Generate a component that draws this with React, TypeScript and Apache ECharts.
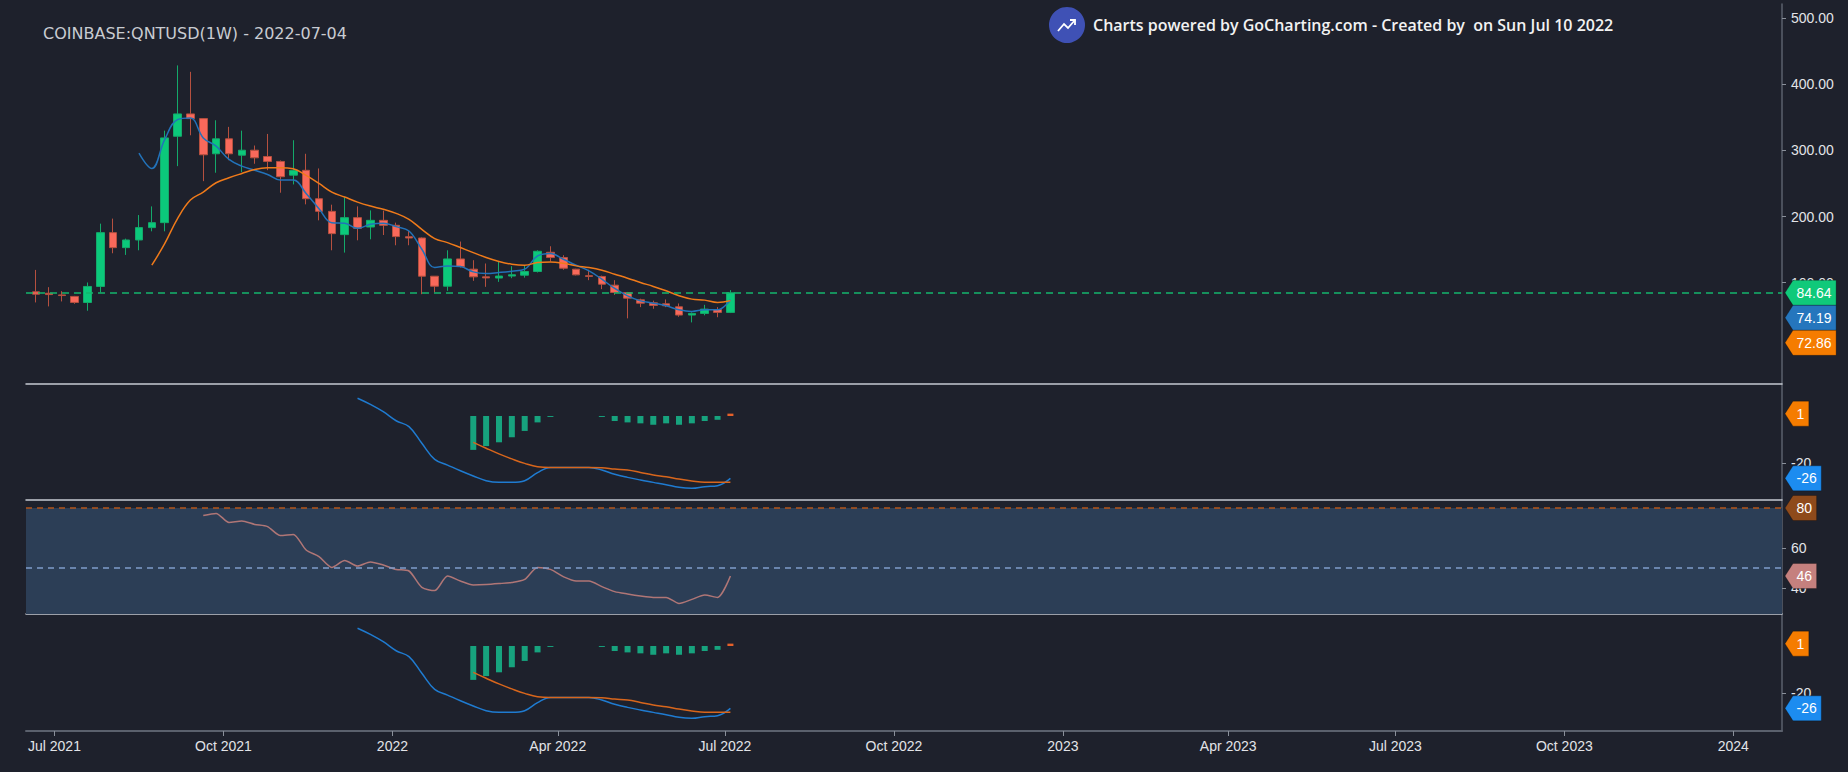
import React, { useEffect, useRef } from 'react';
import * as echarts from 'echarts';

// ---------- data ----------
const AXIS_START = '2021-06-16';
const AXIS_DAYS = 956;
const FIRST_WEEK = '2021-06-21';

const OPEN = [86.1, 84, 81.5, 79.2, 70, 94.3, 175.7, 153, 164.6, 183.3, 190.8, 321.5, 355.3, 348.2, 295, 317.6, 292.9, 300.4, 290.9, 283.4, 262.7, 270, 227, 207.9, 172.7, 198.4, 184.2, 194.3, 186.8, 169.5, 167.6, 109.8, 94.7, 135.9, 120.4, 108.8, 107, 110, 111.3, 116.9, 146, 138, 120.4, 110.6, 109.4, 96.2, 85, 74, 69.5, 68, 63.5, 51, 53.5, 59.4, 55];
const CLOSE = [82.6, 82, 80.5, 70.1, 94.3, 175.7, 153, 164.6, 183.3, 190.8, 319, 355.3, 348.2, 293.5, 317.6, 295, 300.4, 288.9, 283.4, 260.3, 269.8, 227, 207.9, 174.2, 198.4, 182.2, 194.3, 186.8, 169.7, 167.6, 109.8, 94.7, 135.9, 124.4, 108.8, 107.2, 110, 112, 116.9, 147.5, 138, 121.9, 111.8, 109.5, 97.7, 85.2, 76.6, 69, 65.6, 65, 51, 53.5, 60, 55, 84.64];
const LOW = [70.1, 64.1, 71.6, 68, 57.5, 85, 144.5, 142, 149, 177.7, 177.7, 276.3, 323, 253.6, 266.3, 285.3, 267.2, 279.9, 270.2, 236.1, 248.6, 218.5, 194.3, 149, 145.5, 164.1, 165.6, 172.1, 156.6, 156.6, 82.6, 85.2, 87.7, 123, 102.8, 93.7, 101.2, 106.8, 107.6, 115.4, 132, 119.6, 111, 103.8, 90.2, 81.6, 46, 63, 60.5, 63, 48.4, 39.9, 50.6, 47.7, 54];
const HIGH = [119.3, 93.2, 87.2, 80, 100.3, 189.3, 196.9, 166.6, 202.3, 215.4, 330, 428.7, 419, 349, 345.7, 335.7, 330, 307.5, 325, 284.9, 315.5, 295, 272.8, 218, 229.5, 215.4, 209.4, 209, 190.8, 178.2, 168.4, 110, 149, 162.2, 134, 129, 131.4, 124.9, 125.6, 149, 155.1, 141.5, 121, 119.6, 110.6, 103.8, 86, 75.7, 72.8, 74.6, 68.5, 55, 66.5, 63, 88.7];

const MA_FAST_START = 8;
const MA_FAST = [296, 272.8, 316.5, 346.7, 349, 319, 306.5, 286.4, 276.3, 270.2, 263.7, 255.2, 255.2, 235, 212, 190.8, 190, 182.2, 188.3, 190, 184.8, 178.2, 150.6, 122.9, 125.4, 124.4, 116.3, 113.9, 115.4, 117.4, 120.4, 140.4, 144.1, 135.5, 126.4, 117.8, 105.3, 91.2, 80.1, 72.5, 69, 65, 59, 56.5, 59, 59, 74.19];
const MA_SLOW_START = 9;
const MA_SLOW = [126.4, 159, 197, 225, 237, 251.2, 258.7, 265.2, 271.3, 273.8, 273.8, 272.3, 262.2, 250.1, 237, 229.5, 221.9, 215.9, 211, 204.9, 195.8, 180.7, 166.7, 160.6, 153.1, 145.5, 138, 132, 127.9, 126.4, 130.5, 131.4, 129.4, 125.4, 122.9, 118.9, 112.8, 106.8, 100.3, 94.3, 87.7, 80.1, 75.1, 73.6, 70.1, 72.86];

const MACD_START = 25;
const MACD = [7.5, 4.9, 1.8, -2.0, -4.5, -11.5, -18.3, -20.7, -23.1, -25.3, -27.3, -28.0, -28.0, -27.3, -23.9, -21.7, -21.7, -21.7, -21.7, -22.8, -24.6, -25.9, -27.0, -28.0, -29.0, -30.1, -30.5, -29.8, -29.4, -26.3];
const SIGNAL_START = 34;
const SIGNAL = [-11.1, -13.6, -16.0, -18.1, -20.0, -21.4, -21.7, -21.7, -21.7, -21.7, -21.8, -22.4, -22.8, -23.8, -24.9, -25.6, -26.6, -27.4, -28.0, -28.0, -28.0];
const HIST_START = 34;
const HIST = [-14.3, -12.7, -11.1, -9.0, -6.3, -2.7, -0.4, 0, 0, 0, -0.4, -2.1, -2.7, -3.1, -3.7, -3.1, -3.7, -3.1, -2.1, -1.6, 1];

const RSI_START = 13;
const RSI = [76.2, 77.3, 72.8, 73.5, 71.8, 70.7, 66.2, 66.8, 59, 55.7, 50.3, 53.7, 51, 53, 51.5, 49.3, 48.5, 40.3, 38.7, 46, 43.5, 41.5, 41.7, 42.2, 42.8, 44.3, 50.3, 49.3, 45.7, 43.5, 43.5, 40.7, 38.2, 37, 36, 35.3, 35.3, 32.3, 34.3, 36.5, 35.3, 46];
const RSI_UPPER = 80;
const RSI_MID = 50;
const RSI_LOWER = 20;

const PRICE_TICKS = [100, 200, 300, 400, 500];
const MACD_TICKS = [-20];
const RSI_TICKS = [40, 60];
const MONTHS = ['Jan', 'Feb', 'Mar', 'Apr', 'May', 'Jun', 'Jul', 'Aug', 'Sep', 'Oct', 'Nov', 'Dec'];
const QUARTER_MONTHS = [1, 4, 7, 10];

const TITLE = 'COINBASE:QNTUSD(1W) - 2022-07-04';
const WATERMARK = 'Charts powered by GoCharting.com - Created by  on Sun Jul 10 2022';

// ---------- styles / layout ----------
const BG = '#1e212c';
const GREEN = '#0bc97b';
const RED = '#f9695b';
const FAST_C = '#2272b9';
const SLOW_C = '#ef7a1a';
const MACD_C = '#1f7bd0';
const SIG_C = '#d8661c';
const HIST_G = '#17a37e';
const HIST_R = '#e4602a';
const RSI_C = '#b07676';
const AXIS_C = '#5b616d';
const SEP_C = '#c6cad2';
const TXT_C = '#e2e4e8';

const PRICE_RANGE = [-53.3, 521.6];
const MACD1_RANGE = [-35.44, 13.5];
const RSI_RANGE = [27, 84];
const MACD2_RANGE = [-35.86, 13.5];

const DAY = 86400000;
const t0 = Date.parse(AXIS_START);
const categories = Array.from({ length: AXIS_DAYS }, (_, i) => new Date(t0 + i * DAY).toISOString().slice(0, 10));
const weekIdx = (i: number) => Math.round((Date.parse(FIRST_WEEK) - t0) / DAY) + 7 * i;
const series2 = (arr: number[], start: number) => arr.map((v, k) => [weekIdx(start + k), v]);

const isQuarterStart = (v: string) => v.slice(8, 10) === '01' && QUARTER_MONTHS.includes(Number(v.slice(5, 7)));
const labelInterval = (_i: number, v: string) => isQuarterStart(v);
const fmtDate = (v: string) => {
  const m = Number(v.slice(5, 7));
  return m === 1 ? v.slice(0, 4) : `${MONTHS[m - 1]} ${v.slice(0, 4)}`;
};

function buildOption(): any {
  const grids = [
    { left: 26, right: 66, top: 4, height: 380 },
    { left: 26, right: 66, top: 384, height: 116 },
    { left: 26, right: 66, top: 500, height: 114 },
    { left: 26, right: 66, top: 614, height: 117 },
  ];
  const xAxis = grids.map((_, g) => ({
    type: 'category',
    gridIndex: g,
    data: categories,
    boundaryGap: true,
    axisLine: { show: true, onZero: false, lineStyle: { color: g === 3 ? AXIS_C : SEP_C, width: g === 3 ? 2 : 1.5 } },
    axisTick: g === 3
      ? { show: true, interval: labelInterval, alignWithLabel: true, length: 5, lineStyle: { color: '#8a909a' } }
      : { show: false },
    axisLabel: g === 3
      ? { show: true, interval: labelInterval, formatter: fmtDate, color: TXT_C, fontSize: 14, fontFamily: 'Liberation Sans', margin: 8 }
      : { show: false },
    splitLine: { show: false },
    axisPointer: { show: false },
  }));
  const yBase = (g: number, range: number[], ticks: number[], fmt: (v: number) => string) => ({
    type: 'value',
    gridIndex: g,
    position: 'right',
    min: range[0],
    max: range[1],
    axisLine: { show: true, lineStyle: { color: AXIS_C, width: 1.5 } },
    axisTick: { show: true, length: 4, customValues: ticks, lineStyle: { color: '#8a909a' } },
    axisLabel: { show: true, customValues: ticks, formatter: fmt, color: TXT_C, fontSize: 14, fontFamily: 'Liberation Sans', margin: 9 },
    splitLine: { show: false },
  });
  const yAxis = [
    yBase(0, PRICE_RANGE, PRICE_TICKS, (v) => Number(v).toFixed(2)),
    yBase(1, MACD1_RANGE, MACD_TICKS, (v) => String(v)),
    yBase(2, RSI_RANGE, RSI_TICKS, (v) => String(v)),
    yBase(3, MACD2_RANGE, MACD_TICKS, (v) => String(v)),
  ];

  const candleData = OPEN.map((o, i) => [weekIdx(i), o, CLOSE[i], LOW[i], HIGH[i]]);
  const lineS = (name: string, data: any[], color: string, ax: number, smooth = 0.4) => ({
    name, type: 'line', xAxisIndex: ax, yAxisIndex: ax, data, smooth,
    symbol: 'none', showSymbol: false, lineStyle: { color, width: 1.5 }, z: 3,
  });
  const macdSet = (ax: number) => [
    {
      name: 'hist' + ax, type: 'bar', xAxisIndex: ax, yAxisIndex: ax, barWidth: 6,
      data: series2(HIST, HIST_START),
      itemStyle: { color: (p: any) => (p.value[1] > 0 ? HIST_R : HIST_G) },
    },
    lineS('macd' + ax, series2(MACD, MACD_START), MACD_C, ax),
    lineS('signal' + ax, series2(SIGNAL, SIGNAL_START), SIG_C, ax),
  ];

  return {
    animation: false,
    backgroundColor: BG,
    grid: grids,
    xAxis,
    yAxis,
    series: [
      {
        name: 'QNTUSD', type: 'candlestick', xAxisIndex: 0, yAxisIndex: 0, barWidth: 8,
        data: candleData, encode: { x: 0, y: [1, 2, 3, 4] },
        itemStyle: { color: GREEN, color0: RED, borderColor: '#14a96a', borderColor0: '#b5503f', borderWidth: 1 },
        markLine: {
          silent: true, symbol: ['none', 'none'], label: { show: false },
          lineStyle: { color: '#15b56c', type: [7, 5], width: 1.5 },
          data: [{ yAxis: CLOSE[CLOSE.length - 1] }],
        },
        z: 2,
      },
      lineS('fast', series2(MA_FAST, MA_FAST_START), FAST_C, 0),
      lineS('slow', series2(MA_SLOW, MA_SLOW_START), SLOW_C, 0),
      ...macdSet(1),
      {
        ...lineS('rsi', series2(RSI, RSI_START), RSI_C, 2, 0.25),
        markArea: {
          silent: true,
          itemStyle: { color: '#2c3e56' },
          data: [[{ yAxis: RSI_UPPER }, { yAxis: Math.max(RSI_LOWER, RSI_RANGE[0]) }]],
        },
        markLine: {
          silent: true, symbol: ['none', 'none'], label: { show: false },
          data: [
            { yAxis: RSI_UPPER, lineStyle: { color: '#b4561b', type: [6, 5], width: 1.5 } },
            { yAxis: RSI_MID, lineStyle: { color: '#7f9dcc', type: [6, 5], width: 1.5 } },
          ],
        },
      },
      ...macdSet(3),
    ],
  };
}

const CHAR_W: Record<string, number> = { '.': 3.9, '-': 4.7 };
const textW = (s: string) => s.split('').reduce((a, c) => a + (CHAR_W[c] ?? 7.8), 0);

function buildGraphics(chart: any): any[] {
  const last = (a: number[]) => a[a.length - 1];
  const tags = [
    { ax: 0, value: last(CLOSE), text: last(CLOSE).toFixed(2), color: '#10c97a' },
    { ax: 0, value: last(MA_FAST), text: last(MA_FAST).toFixed(2), color: '#2576bd' },
    { ax: 0, value: last(MA_SLOW), text: last(MA_SLOW).toFixed(2), color: '#f57c00' },
    { ax: 1, value: last(HIST), text: String(Math.round(last(HIST))), color: '#f57c00' },
    { ax: 1, value: last(MACD), text: String(Math.round(last(MACD))), color: '#1c8cf0' },
    { ax: 2, value: RSI_UPPER, text: String(RSI_UPPER), color: '#8e4a1b' },
    { ax: 2, value: last(RSI), text: String(Math.round(last(RSI))), color: '#c5807e' },
    { ax: 3, value: last(HIST), text: String(Math.round(last(HIST))), color: '#f57c00' },
    { ax: 3, value: last(MACD), text: String(Math.round(last(MACD))), color: '#1c8cf0' },
  ];
  const H = 25;
  const placed: any[] = [];
  [0, 1, 2, 3].forEach((ax) => {
    const group = tags.filter((t) => t.ax === ax)
      .map((t) => ({ ...t, py: chart.convertToPixel({ yAxisIndex: ax }, t.value) as number }))
      .sort((a, b) => a.py - b.py);
    let prev = -Infinity;
    group.forEach((t) => {
      const yc = Math.max(t.py, prev + H);
      prev = yc;
      placed.push({ ...t, yc });
    });
  });
  const tip = 1785;
  const x0 = 1792;
  const els: any[] = [];
  placed.forEach((t) => {
    const w = textW(t.text) + 9;
    const h2 = H / 2;
    els.push({
      type: 'polygon', z: 100,
      shape: { points: [[tip, t.yc], [x0 + 1, t.yc - h2], [x0 + w, t.yc - h2], [x0 + w, t.yc + h2], [x0 + 1, t.yc + h2]] },
      style: { fill: t.color, stroke: 'rgba(0,0,0,0.25)', lineWidth: 1 },
    });
    els.push({
      type: 'text', z: 101, x: x0 + w / 2, y: t.yc,
      style: { text: t.text, fill: '#ffffff', font: '14px "Liberation Sans"', align: 'center', verticalAlign: 'middle' },
    });
  });
  // title and watermark
  els.push({
    type: 'text', z: 50, x: 43, y: 33,
    style: { text: TITLE, fill: '#c9ccd2', font: '16px "DejaVu Sans"', verticalAlign: 'middle' },
  });
  const cx = 1067, cy = 25;
  els.push({ type: 'circle', z: 50, shape: { cx, cy, r: 18 }, style: { fill: '#3f51b5' } });
  els.push({
    type: 'polyline', z: 51,
    shape: { points: [[cx - 9, cy + 6], [cx - 3, cy - 1], [cx + 1, cy + 3], [cx + 8, cy - 5]] },
    style: { stroke: '#ffffff', lineWidth: 1.8, fill: null },
  });
  els.push({
    type: 'polyline', z: 51,
    shape: { points: [[cx + 3, cy - 5], [cx + 8, cy - 5], [cx + 8, cy]] },
    style: { stroke: '#ffffff', lineWidth: 1.8, fill: null },
  });
  els.push({
    type: 'text', z: 50, x: 1093, y: cy,
    style: { text: WATERMARK, fill: '#f2f2f2', font: '600 16px "Open Sans"', verticalAlign: 'middle' },
  });
  return els;
}

export default function App() {
  const ref = useRef<HTMLDivElement>(null);
  useEffect(() => {
    document.body.style.margin = '0';
    document.body.style.background = BG;
    const chart = echarts.init(ref.current as HTMLDivElement, null, { renderer: 'svg' });
    chart.setOption(buildOption());
    chart.setOption({ graphic: buildGraphics(chart) });
    return () => chart.dispose();
  }, []);
  return <div ref={ref} style={{ width: 1848, height: 772, background: BG }} />;
}
